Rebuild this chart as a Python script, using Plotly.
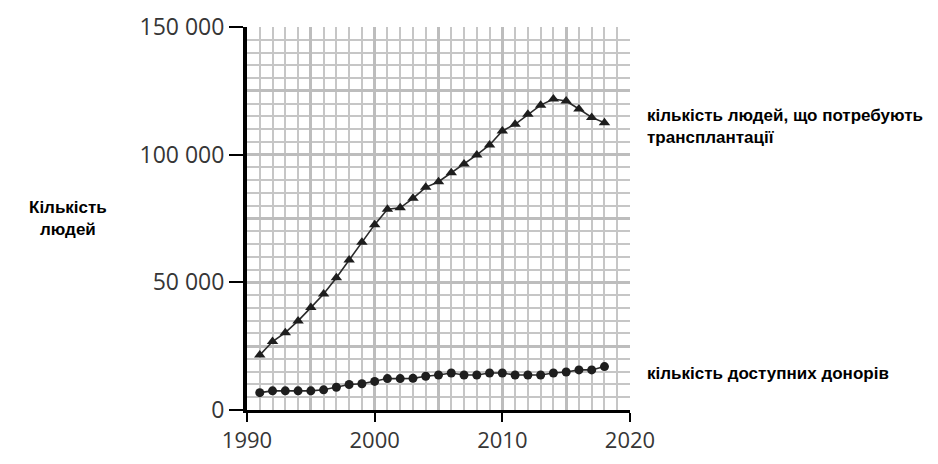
import plotly.graph_objects as go

years = list(range(1991, 2019))
need_transplant = [21500, 26800, 30300, 34900, 40100, 45400, 51800, 58700, 65700, 72600,
                   78600, 79200, 82900, 87200, 89400, 92900, 96300, 99900, 103800, 109300,
                   111900, 115800, 119400, 121800, 121000, 117900, 114600, 112500]
donors = [6800, 7500, 7500, 7500, 7500, 7900, 8900, 10000, 10300, 11200,
          12300, 12300, 12400, 13200, 13700, 14500, 13700, 13700, 14500, 14500,
          13700, 13700, 13700, 14500, 14900, 15700, 15700, 17000]

x_tick_vals = [1990, 2000, 2010, 2020]
x_tick_text = ["1990", "2000", "2010", "2020"]
y_tick_vals = [0, 50000, 100000, 150000]
y_tick_text = ["0", "50 000", "100 000", "150 000"]
x_mid_grid = [1995, 2005, 2015]
y_mid_grid = [25000, 75000, 125000]

label_y = "Кількість<br>людей"
label_need = "кількість людей, що потребують<br>трансплантації"
label_donors = "кількість доступних донорів"

# page body has an 8px margin; size the figure so it fits the window
OFF = 8
W, H = 938 - 2 * OFF, 464 - 2 * OFF
L, T = 247 - OFF, 27 - OFF
pw, ph = 383, 383
R, B = W - L - pw, H - T - ph

def px(x):
    return (x - OFF - L) / pw

def py(y):
    return (T + ph - (y - OFF)) / ph

major_col = "#bdbdbd"
minor_col = "#c6c6c6"

fig = go.Figure()
fig.add_trace(go.Scatter(x=[], y=[], xaxis="x2", yaxis="y2", showlegend=False, hoverinfo="skip"))
fig.add_trace(go.Scatter(
    x=years, y=need_transplant, mode="lines+markers",
    line=dict(color="#2b2b2b", width=1.6),
    marker=dict(symbol="triangle-up", size=10, color="#1e1e1e"),
    showlegend=False))
fig.add_trace(go.Scatter(
    x=years, y=donors, mode="lines+markers",
    line=dict(color="#2b2b2b", width=1.6),
    marker=dict(symbol="circle", size=9, color="#1e1e1e"),
    showlegend=False))

xtickfont = dict(family="Open Sans", size=22, color="#363636")
ytickfont = dict(family="Open Sans", size=23, color="#363636")
annfont = dict(family="Liberation Sans", size=17, color="black", weight="bold")

fig.update_layout(
    width=W, height=H,
    margin=dict(l=L, r=R, t=T, b=B, pad=0, autoexpand=False),
    paper_bgcolor="white", plot_bgcolor="white",
    xaxis=dict(range=[1990, 2020], tickvals=x_tick_vals, ticktext=x_tick_text,
               automargin=False,
               ticks="outside", ticklen=9, tickwidth=2, tickcolor="black",
               showline=True, linecolor="black", linewidth=3,
               showgrid=True, gridcolor=major_col, gridwidth=3,
               zeroline=False, tickfont=xtickfont,
               minor=dict(dtick=1, showgrid=True, gridcolor=minor_col, gridwidth=1.5, ticks="")),
    yaxis=dict(range=[0, 150000], tickvals=y_tick_vals, ticktext=y_tick_text,
               automargin=False,
               ticks="outside", ticklen=14, tickwidth=2, tickcolor="black",
               showline=True, linecolor="black", linewidth=4,
               showgrid=True, gridcolor=major_col, gridwidth=3,
               zeroline=False, tickfont=ytickfont,
               minor=dict(dtick=5000, tick0=0, showgrid=True, gridcolor=minor_col, gridwidth=1.5, ticks="")),
    xaxis2=dict(range=[1990, 2020], overlaying="x", anchor="y2", tickvals=x_mid_grid,
                automargin=False,
                showticklabels=False, ticks="", showline=False, zeroline=False,
                showgrid=True, gridcolor=major_col, gridwidth=3),
    yaxis2=dict(range=[0, 150000], overlaying="y", anchor="x2", tickvals=y_mid_grid,
                automargin=False,
                showticklabels=False, ticks="", showline=False, zeroline=False,
                showgrid=True, gridcolor=major_col, gridwidth=3),
    annotations=[
        dict(text=label_y, xref="paper", yref="paper", x=px(68), y=py(218),
             xanchor="center", yanchor="middle", align="center", showarrow=False,
             font=annfont),
        dict(text=label_need, xref="paper", yref="paper", x=px(645), y=py(127),
             xanchor="left", yanchor="middle", align="left", showarrow=False,
             font=annfont),
        dict(text=label_donors, xref="paper", yref="paper", x=px(645), y=py(373),
             xanchor="left", yanchor="middle", align="left", showarrow=False,
             font=annfont),
    ],
)

fig.write_html("out.html")
